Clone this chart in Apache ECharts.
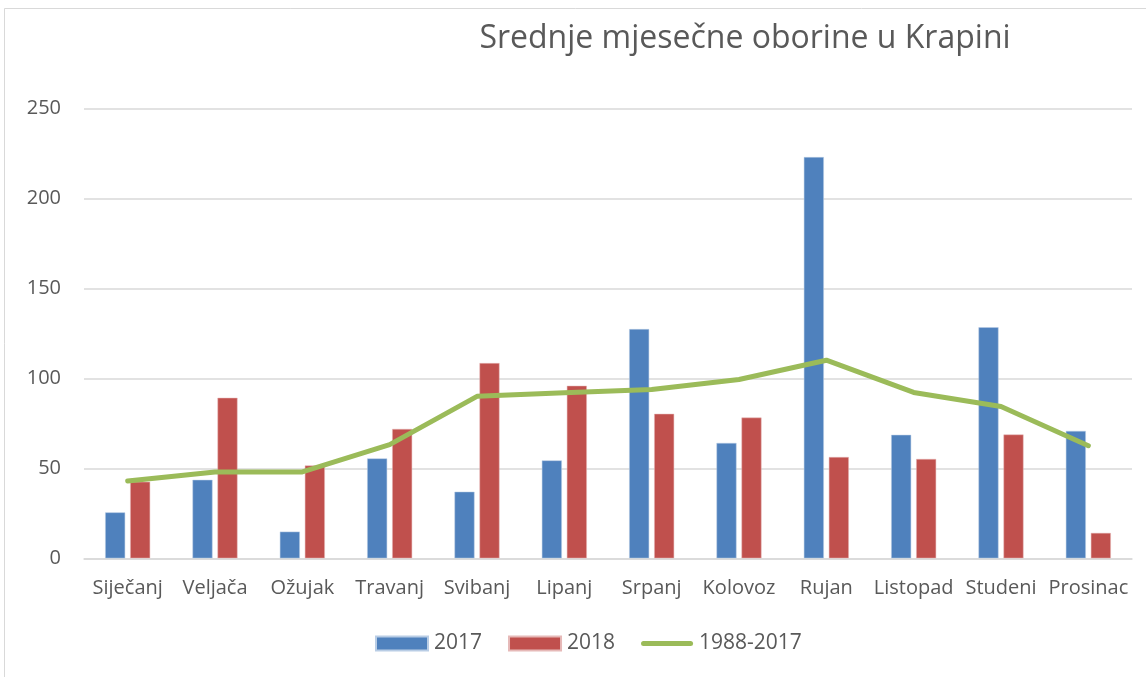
<!DOCTYPE html>
<html>
<head>
<meta charset="utf-8">
<script src="https://cdn.jsdelivr.net/npm/echarts@6/dist/echarts.min.js"></script>
<style>
html,body{margin:0;padding:0;background:#fff;}
#chart{width:1146px;height:677px;}
</style>
</head>
<body>
<div id="chart"></div>
<script>
const titleText = 'Srednje mjesečne oborine u Krapini';
const categories = ['Siječanj','Veljača','Ožujak','Travanj','Svibanj','Lipanj','Srpanj','Kolovoz','Rujan','Listopad','Studeni','Prosinac'];
const series2017 = [25.5, 43.6, 14.8, 55.5, 37, 54.4, 127.4, 64.1, 223, 68.6, 128.4, 70.8];
const series2018 = [42.5, 89.2, 51.6, 71.9, 108.5, 95.9, 80.3, 78.2, 56.3, 55.2, 68.8, 14.1];
const seriesAvg = [43, 48, 48, 63.2, 90, 92, 93.8, 99.4, 110.1, 92.2, 84.4, 62.6];
const yTicks = [0, 50, 100, 150, 200, 250];
const names = ['2017', '2018', '1988-2017'];

const font = '"Open Sans", sans-serif';
const chart = echarts.init(document.getElementById('chart'), null, {renderer:'canvas'});
chart.setOption({
  animation: false,
  backgroundColor: '#ffffff',
  graphic: [{
    type: 'rect', shape: {x: 4.5, y: 8.5, width: 1200, height: 700},
    style: {fill: 'none', stroke: '#D9D9D9', lineWidth: 1}, silent: true, z: -10
  }],
  title: {
    text: titleText, left: 740, top: 18, textAlign: 'center',
    textStyle: {fontFamily: font, fontSize: 32, fontWeight: 'normal', color: '#595959'}
  },
  legend: {
    data: [
      {name: names[0], icon: 'rect'},
      {name: names[1], icon: 'rect'},
      {name: names[2], icon: 'path://M2.5,0 L49.5,0 A2.5,2.5 0 0 1 49.5,5 L2.5,5 A2.5,2.5 0 0 1 2.5,0 Z', itemStyle: {color: '#9BBB59'}}
    ],
    symbolKeepAspect: true,
    bottom: 18, left: 370, itemWidth: 52, itemHeight: 14, itemGap: 26,
    textStyle: {fontFamily: font, fontSize: 21, color: '#595959', padding: [0,0,0,1]}
  },
  grid: {left: 84, right: 14, top: 108.5, bottom: 118.7},
  xAxis: {
    type: 'category', data: categories,
    axisLine: {show: true, lineStyle: {color: '#D9D9D9', width: 1.5}},
    axisTick: {show: false},
    axisLabel: {fontFamily: font, fontSize: 20, color: '#595959', margin: 20, interval: 0}
  },
  yAxis: {
    type: 'value', min: yTicks[0], max: yTicks[yTicks.length-1], interval: 50,
    axisLine: {show: false}, axisTick: {show: false},
    splitLine: {lineStyle: {color: '#D9D9D9', width: 1.5}},
    axisLabel: {fontFamily: font, fontSize: 20, color: '#595959', margin: 23}
  },
  series: [
    {name: names[0], type: 'bar', data: series2017, barWidth: 20, barGap: '25%',
     itemStyle: {color: '#4F81BD', borderColor: '#b9cde5', borderWidth: 0.5}},
    {name: names[1], type: 'bar', data: series2018, barWidth: 20,
     itemStyle: {color: '#C0504D', borderColor: '#e6b9b8', borderWidth: 0.5}},
    {name: names[2], type: 'line', data: seriesAvg, symbol: 'none', showSymbol: false,
     lineStyle: {color: '#9BBB59', width: 5, cap: 'round', join: 'round'},
     itemStyle: {color: '#9BBB59'}, z: 5}
  ]
});
</script>
</body>
</html>
